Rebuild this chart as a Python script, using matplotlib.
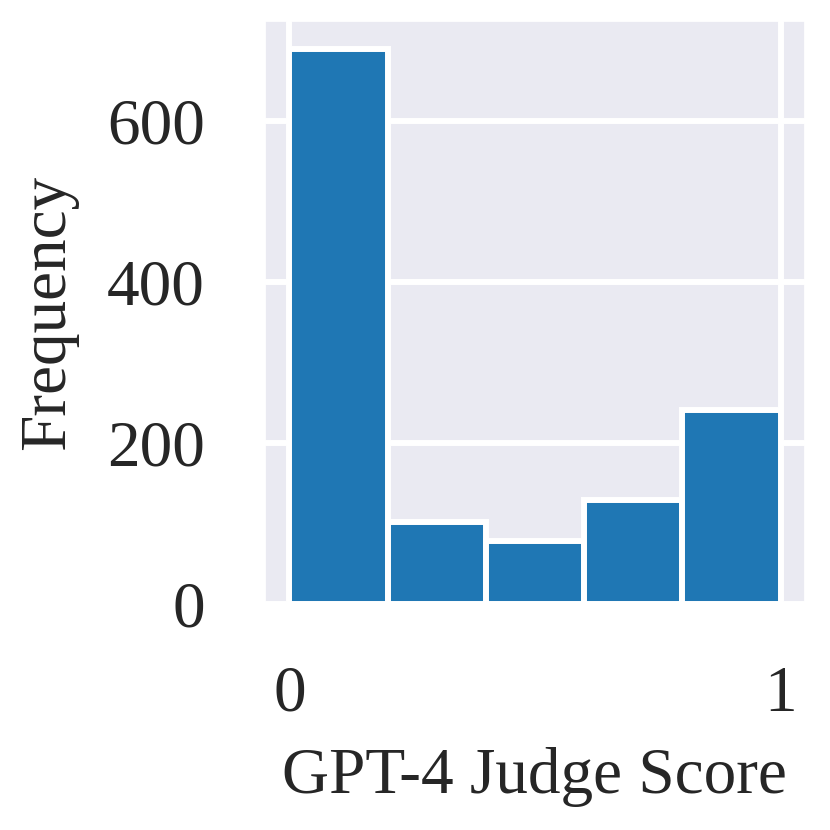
import matplotlib
matplotlib.use("Agg")
import matplotlib.pyplot as plt
import seaborn as sns

# histogram of judge scores, 5 bins over [0, 1]
bin_edges = [0.0, 0.2, 0.4, 0.6, 0.8, 1.0]
counts = [690, 102, 79, 129, 241]
x_ticks = [0, 1]
y_ticks = [0, 200, 400, 600]

sns.set_theme(style="darkgrid")
plt.rcParams["font.family"] = ["Liberation Serif", "DejaVu Serif"]

fig = plt.figure(figsize=(8.3, 8.3), dpi=100)
ax = fig.add_axes([0.319, 0.272, 0.651, 0.703])

lefts = bin_edges[:-1]
widths = [b - a for a, b in zip(bin_edges[:-1], bin_edges[1:])]
ax.bar(lefts, counts, width=widths, align="edge", color="#1f77b4",
       edgecolor="white", linewidth=4.3)

ax.grid(True, color="white", linewidth=4.3)
ax.set_axisbelow(True)
ax.set_xticks(x_ticks)
ax.set_yticks(y_ticks)
ax.tick_params(axis="x", labelsize=47, pad=38, colors="#262626")
ax.tick_params(axis="y", labelsize=47, pad=37, colors="#262626")

ax.set_xlabel("GPT-4 Judge Score", fontsize=47, color="#262626")
ax.set_ylabel("Frequency", fontsize=47, color="#262626")
ax.xaxis.set_label_coords(0.5, -0.245)
ax.yaxis.set_label_coords(-0.345, 0.5)

fig.savefig("out.png", dpi=100)
